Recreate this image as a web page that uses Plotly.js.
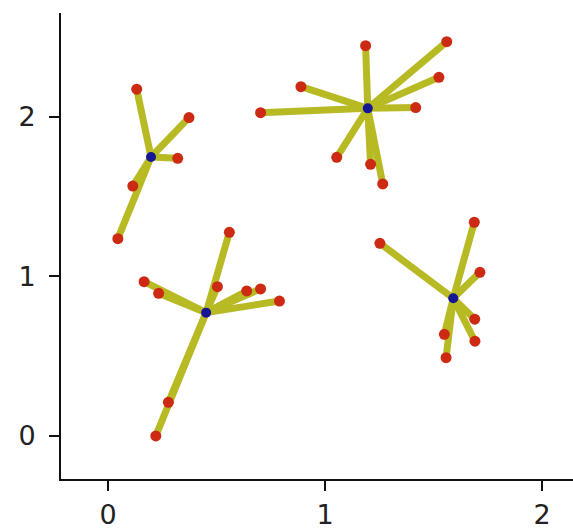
<!DOCTYPE html>
<html>
<head>
<meta charset="utf-8">
<script src="https://cdn.plot.ly/plotly-3.0.1.min.js"></script>
<style>html,body{margin:0;padding:0;background:#fff;}#chart{width:573px;height:529px;}</style>
</head>
<body>
<div id="chart"></div>
<script>
// Cluster centres
const centerX = [0.198, 1.197, 0.452, 1.591];
const centerY = [1.749, 2.054, 0.773, 0.863];

// Member points and the cluster each belongs to
const pointX = [0.132, 0.373, 0.321, 0.114, 0.045,
                1.187, 1.561, 0.889, 1.525, 0.703, 1.418, 1.054, 1.210, 1.266,
                0.559, 0.166, 0.233, 0.504, 0.639, 0.703, 0.790, 0.278, 0.220,
                1.688, 1.253, 1.714, 1.690, 1.550, 1.691, 1.558];
const pointY = [2.174, 1.996, 1.741, 1.567, 1.237,
                2.447, 2.472, 2.190, 2.249, 2.027, 2.059, 1.747, 1.703, 1.580,
                1.277, 0.967, 0.894, 0.936, 0.909, 0.922, 0.846, 0.211, 0.000,
                1.340, 1.208, 1.026, 0.732, 0.637, 0.594, 0.491];
const pointCluster = [0,0,0,0,0,
                      1,1,1,1,1,1,1,1,1,
                      2,2,2,2,2,2,2,2,2,
                      3,3,3,3,3,3,3];

const xTicks = [0, 1, 2];
const yTicks = [0, 1, 2];

const segX = [], segY = [];
for (let i = 0; i < pointX.length; i++) {
  const c = pointCluster[i];
  segX.push(centerX[c], pointX[i], null);
  segY.push(centerY[c], pointY[i], null);
}

const traces = [
  {x: segX, y: segY, mode: 'lines', type: 'scatter',
   line: {color: '#b8ba24', width: 7}, hoverinfo: 'skip', connectgaps: false},
  {x: pointX, y: pointY, mode: 'markers', type: 'scatter',
   marker: {color: '#cc2a12', size: 11}},
  {x: centerX, y: centerY, mode: 'markers', type: 'scatter',
   marker: {color: '#161694', size: 10}}
];

const axisCommon = {
  showgrid: false, zeroline: false, showline: true, linecolor: '#111', linewidth: 2,
  ticks: 'outside', ticklen: 10, tickwidth: 2, tickcolor: '#111',
  tickfont: {family: 'DejaVu Sans', size: 27, color: '#222'}, tickmode: 'array'
};

const layout = {
  width: 573, height: 529,
  margin: {l: 61, r: 0, t: 13, b: 50},
  paper_bgcolor: '#fff', plot_bgcolor: '#fff',
  showlegend: false,
  xaxis: Object.assign({}, axisCommon, {range: [-0.217, 2.143], tickvals: xTicks, ticktext: xTicks.map(String), ticklabelstandoff: 1}),
  yaxis: Object.assign({}, axisCommon, {range: [-0.27, 2.652], tickvals: yTicks, ticktext: yTicks.map(String), ticklabelstandoff: 8})
};

Plotly.newPlot('chart', traces, layout, {displayModeBar: false, staticPlot: true});
</script>
</body>
</html>
